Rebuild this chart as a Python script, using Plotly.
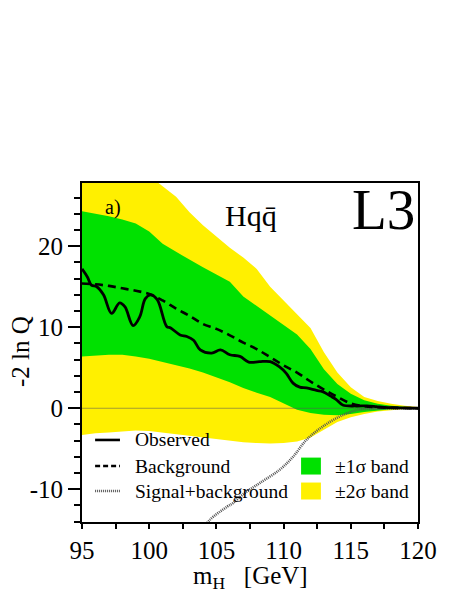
import plotly.graph_objects as go

# -2 ln Q versus Higgs mass, L3 Hqq channel
MASS = [95, 96, 97, 98, 99, 100, 101, 102, 103, 104, 105, 106, 107,
        108, 109, 110, 111, 112, 113, 114, 115, 116, 117, 118, 119, 120]

UP2 = [34.0, 33.0, 32.0, 31.0, 30.0, 28.7, 27.4, 26.1, 24.2, 22.6, 21.2, 19.8, 18.6,
       17.2, 15.0, 13.3, 11.5, 9.9, 6.9, 4.4, 2.6, 1.4, 0.9, 0.55, 0.3, 0.15]
UP1 = [24.3, 24.0, 23.7, 23.3, 22.8, 21.8, 20.3, 19.3, 18.3, 17.4, 16.5, 15.6, 13.8,
       12.6, 11.5, 10.3, 9.1, 7.3, 4.8, 3.0, 1.8, 1.0, 0.55, 0.3, 0.15, 0.05]
LO1 = [6.4, 6.5, 6.6, 6.6, 6.4, 6.1, 5.7, 5.3, 4.9, 4.4, 3.8, 3.2, 2.5,
       1.9, 1.4, 0.6, -0.2, -0.6, -0.8, -0.85, -0.7, -0.45, -0.25, -0.12, -0.05, 0.0]
LO2 = [-3.3, -3.1, -3.0, -2.85, -2.75, -2.8, -3.0, -3.25, -3.45, -3.6, -3.8, -4.0, -4.2,
       -4.3, -4.35, -4.3, -4.1, -3.6, -2.6, -1.7, -1.1, -0.7, -0.4, -0.2, -0.08, 0.0]
BKG = [15.4, 15.3, 15.1, 14.8, 14.5, 14.1, 13.3, 12.3, 11.4, 10.4, 9.8, 9.0, 8.1,
       7.3, 6.3, 5.3, 4.4, 3.3, 2.3, 1.4, 0.6, 0.25, 0.12, 0.06, 0.03, 0.0]

OBS_X = [95.0, 95.4, 95.7, 96.1, 96.6, 97.2, 97.8, 98.2, 98.8, 99.3, 99.7, 100.1,
         100.6, 101.3, 101.6, 102.3, 102.8, 103.3, 103.8, 104.65, 105.3, 106.0,
         106.75, 107.4, 108.2, 109.0, 109.7, 110.2, 110.7, 111.2, 111.7, 112.45,
         112.9, 113.5, 113.9, 114.4, 115.4, 116.2, 116.9, 117.5, 118.5, 120.0]
OBS_Y = [17.2, 16.2, 15.2, 15.0, 14.0, 11.7, 13.0, 12.5, 10.2, 11.3, 13.5, 14.0,
         13.4, 10.1, 9.9, 9.05, 8.85, 8.4, 7.2, 6.8, 7.2, 6.6,
         6.4, 5.7, 5.75, 5.75, 5.1, 4.3, 3.1, 2.6, 2.5, 2.2,
         2.05, 1.5, 1.1, 0.4, 0.28, 0.3, 0.2, 0.1, 0.05, 0.0]

SB_X = [104.0, 104.5, 105.8, 106.25, 107.0, 108.2, 109.7, 110.7, 111.7, 112.9,
        114.2, 115.4, 116.5, 118.0, 120.0]
SB_Y = [-15.0, -13.8, -12.15, -11.7, -10.6, -9.26, -7.6, -6.0, -3.9, -2.27,
        -1.0, -0.25, -0.08, -0.02, 0.0]

LINE_LABELS = ["Observed", "Background", "Signal+background"]
BAND_LABELS = ["\u00b11\u03c3 band", "\u00b12\u03c3 band"]

GREEN = "#00e100"
YELLOW = "#fff000"
FONT = "Liberation Serif, Times New Roman, serif"
SB_STYLE = dict(color="#555555", width=2.6, dash="1px,1px")

fig = go.Figure()

# 2 sigma band
fig.add_trace(go.Scatter(x=MASS, y=UP2, mode="lines", line=dict(width=0), hoverinfo="skip"))
fig.add_trace(go.Scatter(x=MASS, y=LO2, mode="lines", line=dict(width=0),
                         fill="tonexty", fillcolor=YELLOW, hoverinfo="skip"))
# 1 sigma band
fig.add_trace(go.Scatter(x=MASS, y=UP1, mode="lines", line=dict(width=0), hoverinfo="skip"))
fig.add_trace(go.Scatter(x=MASS, y=LO1, mode="lines", line=dict(width=0),
                         fill="tonexty", fillcolor=GREEN, hoverinfo="skip"))

# zero reference
fig.add_trace(go.Scatter(x=[MASS[0], MASS[-1]], y=[0, 0], mode="lines",
                         line=dict(color="rgba(90,90,90,0.55)", width=1.2), hoverinfo="skip"))

fig.add_trace(go.Scatter(x=SB_X, y=SB_Y, mode="lines", line_shape="spline", line=SB_STYLE))
fig.add_trace(go.Scatter(x=MASS, y=BKG, mode="lines", line_shape="spline",
                         line=dict(color="black", width=2.6, dash="8px,5px")))
fig.add_trace(go.Scatter(x=OBS_X, y=OBS_Y, mode="lines", line_shape="spline",
                         line=dict(color="black", width=2.8)))

# hand-drawn legend (paper coords)
line_styles = [dict(color="black", width=2.6),
               dict(color="black", width=2.6, dash="5px,3px"),
               SB_STYLE]
row_y = [0.242, 0.165, 0.0914]
for lab, st, yy in zip(LINE_LABELS, line_styles, row_y):
    fig.add_shape(type="line", xref="paper", yref="paper",
                  x0=0.039, x1=0.113, y0=yy, y1=yy, line=st)
    fig.add_annotation(text=lab, xref="paper", yref="paper", x=0.152, y=yy,
                       xanchor="left", yanchor="middle", showarrow=False,
                       font=dict(family=FONT, size=19.5, color="black"))
for lab, col, yy in zip(BAND_LABELS, [GREEN, YELLOW], row_y[1:]):
    fig.add_shape(type="rect", xref="paper", yref="paper", line_width=0,
                  x0=0.652, x1=0.711, y0=yy - 0.025, y1=yy + 0.025, fillcolor=col)
    fig.add_annotation(text=lab, xref="paper", yref="paper", x=0.747, y=yy,
                       xanchor="left", yanchor="middle", showarrow=False,
                       font=dict(family=FONT, size=19.5, color="black"))

fig.add_annotation(text="a)", xref="paper", yref="paper", x=0.092, y=0.929,
                   xanchor="center", yanchor="middle", showarrow=False,
                   font=dict(family=FONT, size=20, color="black"))
fig.add_annotation(text="Hqq\u0304", xref="paper", yref="paper", x=0.503, y=0.905,
                   xanchor="center", yanchor="middle", showarrow=False,
                   font=dict(family=FONT, size=30, color="black"))
fig.add_annotation(text="L3", xref="paper", yref="paper", x=0.896, y=0.923,
                   xanchor="center", yanchor="middle", showarrow=False,
                   font=dict(family=FONT, size=57, color="black"))

# axis titles
fig.add_annotation(text="-2 ln Q", xref="paper", yref="paper", x=-0.185, y=0.504,
                   xanchor="center", yanchor="middle", textangle=-90, showarrow=False,
                   font=dict(family=FONT, size=25, color="black"))
fig.add_annotation(text="m<sub>H</sub>   [GeV]", xref="paper", yref="paper", x=0.5, y=-0.165,
                   xanchor="center", yanchor="middle", showarrow=False,
                   font=dict(family=FONT, size=25, color="black"))

# page body adds an 8px offset, so the figure is 8px smaller than the window
fig.update_layout(
    width=455, height=591,
    margin=dict(l=74, r=45, t=175, b=77),
    plot_bgcolor="white", paper_bgcolor="white",
    showlegend=False,
    font=dict(family=FONT, size=25, color="black"),
    xaxis=dict(range=[95, 120], tickvals=[95, 100, 105, 110, 115, 120],
               ticks="outside", ticklen=5, tickwidth=1.5, tickcolor="black",
               minor=dict(dtick=2.5, ticks="outside", ticklen=5, tickwidth=1.5, tickcolor="black"),
               showgrid=False, zeroline=False, showline=True, linecolor="black",
               linewidth=2, mirror=True, tickfont=dict(family=FONT, size=25, color="black")),
    yaxis=dict(range=[-14.04, 27.8], tickvals=[-10, 0, 10, 20],
               ticktext=["-10", "0", "10", "20"],
               ticks="outside", ticklen=12, tickwidth=1.5, tickcolor="black",
               minor=dict(dtick=2, ticks="outside", ticklen=6, tickwidth=1.5, tickcolor="black"),
               showgrid=False, zeroline=False, showline=True, linecolor="black",
               linewidth=2, mirror=True, tickfont=dict(family=FONT, size=25, color="black")),
)

fig.write_html("out.html")
